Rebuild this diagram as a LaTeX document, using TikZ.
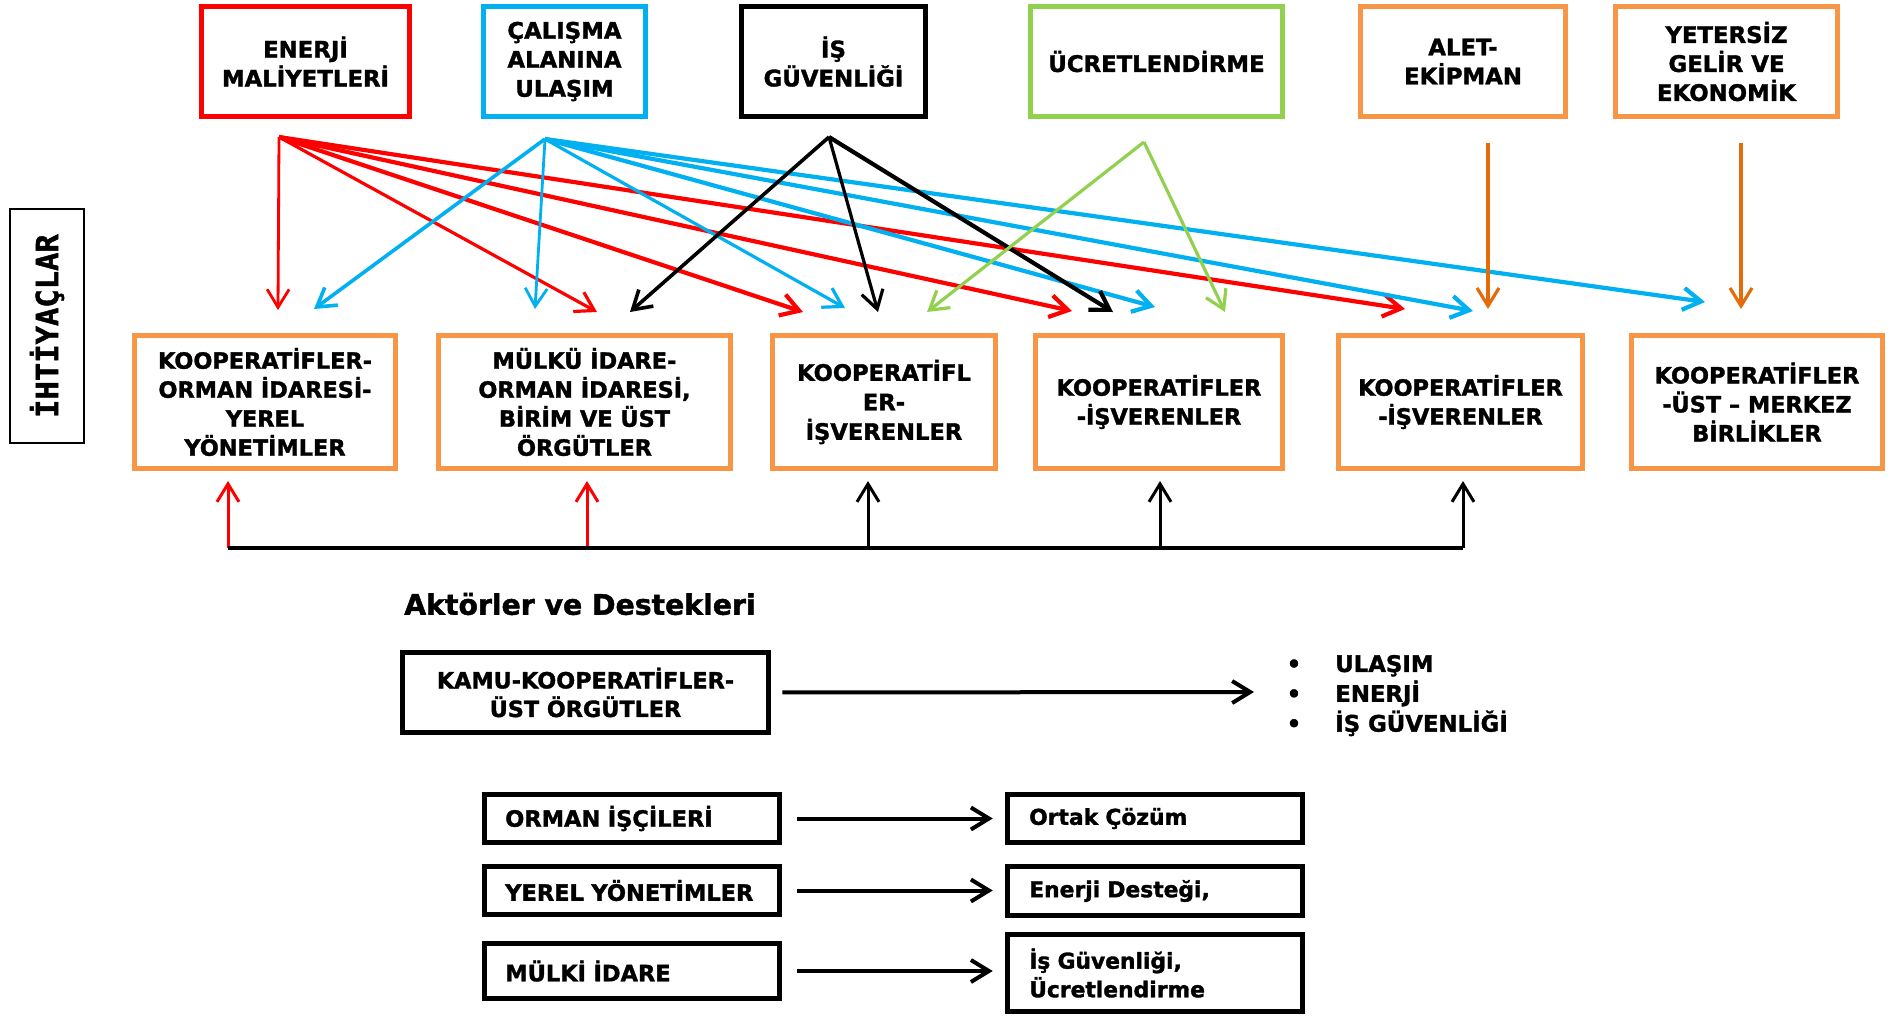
\documentclass[tikz,border=0pt]{standalone}
\usepackage{fontspec}
\setmainfont{DejaVu Sans}[BoldFeatures={FakeBold=1.5}]
\newfontfamily\monof{DejaVu Sans Mono}[BoldFeatures={FakeBold=1.5}]
\usetikzlibrary{arrows.meta}
\definecolor{cred}{HTML}{FF0000}
\definecolor{cblue}{HTML}{00B0F0}
\definecolor{cgreen}{HTML}{92D050}
\definecolor{corange}{HTML}{F79646}
\definecolor{cdorange}{HTML}{E36C09}
\begin{document}
\begin{tikzpicture}[x=1pt,y=-1pt,
  topbox/.style={draw, line width=5pt, align=center, inner sep=0pt,
    font=\fontsize{22.8}{29}\selectfont\bfseries, minimum height=110.5pt},
  lowbox/.style={draw=corange, line width=5pt, align=center, inner sep=0pt,
    font=\fontsize{22.4}{29}\selectfont\bfseries, minimum height=133pt},
  blkbox/.style={draw, line width=5pt, align=left, inner ysep=0pt,
    font=\fontsize{22.5}{28.6}\selectfont\bfseries},
  arr/.style={-{Straight Barb[length=18pt,width=22pt]}},
]
\fill[white] (0,0) rectangle (1893,1017);
\useasboundingbox (0,0) rectangle (1893,1017);

% ---- top boxes (needs)
\node[topbox, draw=cred, minimum width=208.5pt] (ener) at (305.5,61.5) {ENERJİ\\MALİYETLERİ};
\node[topbox, draw=cblue, minimum width=162.5pt] (cal) at (564.5,61.5) {ÇALIŞMA\\ALANINA\\ULAŞIM};
\node[topbox, draw=black, minimum width=184.5pt] (isg) at (833.5,61.5) {İŞ\\GÜVENLİĞİ};
\node[topbox, draw=cgreen, minimum width=252.5pt] (ucr) at (1156.5,61.5) {ÜCRETLENDİRME};
\node[topbox, draw=corange, minimum width=205.5pt] (alet) at (1463,61.5) {ALET-\\EKİPMAN};
\node[topbox, draw=corange, minimum width=222.5pt] (yet) at (1726.5,61.5) {YETERSİZ\\GELİR VE\\EKONOMİK};

% ---- side label
\node[draw, line width=2.2pt, rotate=90, minimum width=234pt, minimum height=74pt,
  inner sep=0pt, font=\monof\fontsize{30.5}{30}\selectfont\bfseries] (iht) at (47,326) {İHTİYAÇLAR};

% ---- lower boxes (actors)
\node[lowbox, minimum width=261.5pt] (k1) at (265,402) {KOOPERATİFLER-\\ORMAN İDARESİ-\\YEREL\\YÖNETİMLER};
\node[lowbox, minimum width=292.5pt] (k2) at (584.5,402) {MÜLKÜ İDARE-\\ORMAN İDARESİ,\\BİRİM VE ÜST\\ÖRGÜTLER};
\node[lowbox, minimum width=223.5pt, font=\fontsize{22.6}{29.5}\selectfont\bfseries] (k3) at (884,402) {KOOPERATİFL\\ER-\\İŞVERENLER};
\node[lowbox, minimum width=247.5pt] (k4) at (1159,402) {KOOPERATİFLER\\-İŞVERENLER};
\node[lowbox, minimum width=244.5pt] (k5) at (1460.5,402) {KOOPERATİFLER\\-İŞVERENLER};
\node[lowbox, minimum width=251.5pt] (k6) at (1757,402) {KOOPERATİFLER\\-ÜST – MERKEZ\\BİRLİKLER};

% ---- arrow origins and tips
\coordinate (eo) at (279,137);
\coordinate (co) at (545,139);
\coordinate (io) at (829,137);
\coordinate (uo) at (1144,142);
\coordinate (ao) at (1488,143);
\coordinate (yo) at (1741,143);
\coordinate (r1) at (278,310);
\coordinate (r2) at (597,312);
\coordinate (r3) at (803,312);
\coordinate (r4) at (1072,311);
\coordinate (r5) at (1405,309);
\coordinate (c1) at (314,309);
\coordinate (c2) at (535,309);
\coordinate (c3) at (845,308);
\coordinate (c4) at (1155,307);
\coordinate (c5) at (1473,311);
\coordinate (c6) at (1705,302);
\coordinate (i1) at (630,312);
\coordinate (i2) at (878,312);
\coordinate (i3) at (1113,312);
\coordinate (u1) at (927,312);
\coordinate (u2) at (1225,312);
\coordinate (a1) at (1488,309);
\coordinate (y1) at (1741,309);

% red
\draw[arr, cred, line width=2.8pt] (eo) -- (r1);
\draw[arr, cred, line width=3.2pt] (eo) -- (r2);
\draw[arr, cred, line width=4.2pt] (eo) -- (r3);
\draw[arr, cred, line width=4.2pt] (eo) -- (r4);
\draw[arr, cred, line width=4.2pt] (eo) -- (r5);
% blue
\draw[arr, cblue, line width=3.6pt] (co) -- (c1);
\draw[arr, cblue, line width=2.8pt] (co) -- (c2);
\draw[arr, cblue, line width=3.2pt] (co) -- (c3);
\draw[arr, cblue, line width=4.2pt] (co) -- (c4);
\draw[arr, cblue, line width=4.2pt] (co) -- (c5);
\draw[arr, cblue, line width=4.2pt] (co) -- (c6);
% black
\draw[arr, black, line width=3.6pt] (io) -- (i1);
\draw[arr, black, line width=3.2pt] (io) -- (i2);
\draw[arr, black, line width=4.2pt] (io) -- (i3);
% green
\draw[arr, cgreen, line width=3.2pt] (uo) -- (u1);
\draw[arr, cgreen, line width=3.2pt] (uo) -- (u2);
% orange
\draw[arr, cdorange, line width=3.2pt] (ao) -- (a1);
\draw[arr, cdorange, line width=3.2pt] (yo) -- (y1);

% ---- bottom connector
\coordinate (b1) at (228,548);
\coordinate (b2) at (587,548);
\coordinate (b3) at (868,548);
\coordinate (b4) at (1160,548);
\coordinate (b5) at (1463,548);
\draw[arr, cred, line width=3pt, shorten >=10pt] (b1) -- (b1 |- k1.south);
\draw[arr, cred, line width=3pt, shorten >=10pt] (b2) -- (b2 |- k2.south);
\draw[arr, black, line width=3pt, shorten >=10pt] (b3) -- (b3 |- k3.south);
\draw[arr, black, line width=3pt, shorten >=10pt] (b4) -- (b4 |- k4.south);
\draw[arr, black, line width=3pt, shorten >=10pt] (b5) -- (b5 |- k5.south);
\draw[line width=4.5pt] (b1) -- (b5);

% ---- actors and supports
\node[font=\fontsize{28.3}{28}\selectfont\bfseries, inner sep=0pt] (akt) at (580,604) {Aktörler ve Destekleri};

\node[blkbox, align=center, inner sep=0pt, minimum width=366.5pt, minimum height=80.5pt,
  font=\fontsize{22.3}{28.6}\selectfont\bfseries] (kamu) at (585.5,692.5) {KAMU-KOOPERATİFLER-\\ÜST ÖRGÜTLER};
\coordinate (kamutip) at (1254,692);
\draw[arr, line width=4pt, shorten <=11pt] (kamu.east) -- (kamutip);
\node[anchor=west, inner sep=0pt, font=\fontsize{22.8}{29}\selectfont\bfseries] (bul) at (1286.5,696)
  {\begin{tabular}{@{}l@{\hspace{34pt}}l@{}}•&ULAŞIM\\•&ENERJİ\\•&İŞ GÜVENLİĞİ\end{tabular}};

\node[blkbox, text width=253.5pt, inner xsep=21pt, minimum height=48.5pt] (orm) at (632,818.5) {ORMAN İŞÇİLERİ};
\node[blkbox, text width=253.5pt, inner xsep=21pt, minimum height=48.5pt] (yer) at (632,890.5) {YEREL YÖNETİMLER};
\node[blkbox, text width=253.5pt, inner xsep=21pt, minimum height=55.5pt] (mul) at (632,971) {MÜLKİ İDARE};

\node[blkbox, text width=251.5pt, inner xsep=22pt, minimum height=48.5pt, font=\fontsize{21.8}{28.6}\selectfont\bfseries] (ort) at (1155,818.5) {Ortak Çözüm};
\node[blkbox, text width=251.5pt, inner xsep=22pt, minimum height=49.5pt, font=\fontsize{21.8}{28.6}\selectfont\bfseries] (ene) at (1155,891) {Enerji Desteği,};
\node[blkbox, text width=251.5pt, inner xsep=22pt, minimum height=77.5pt, font=\fontsize{21.8}{28.6}\selectfont\bfseries] (isu) at (1155,973) {İş Güvenliği,\\Ücretlendirme};

\draw[arr, line width=4pt, shorten <=15pt, shorten >=12pt] (orm.east) -- (orm.east -| ort.west);
\draw[arr, line width=4pt, shorten <=15pt, shorten >=12pt] (yer.east) -- (yer.east -| ene.west);
\draw[arr, line width=4pt, shorten <=15pt, shorten >=12pt] (mul.east) -- (mul.east -| isu.west);
\end{tikzpicture}
\end{document}
